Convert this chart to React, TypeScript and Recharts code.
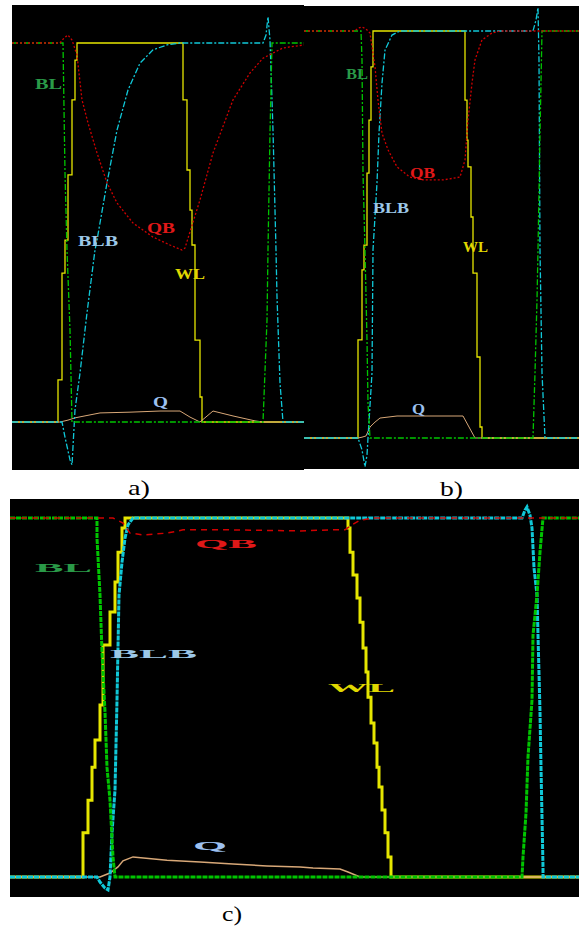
import { Line, LineChart, XAxis, YAxis } from "recharts";

// ---- panel a) : read rising/falling edges from scope trace ----
const blTA = [0, 51, 53, 55, 58, 60, 251, 255, 256, 258, 260, 292];
const blVA = [1, 1, 0.657, 0.454, 0.243, 0, 0, 0.269, 0.454, 0.763, 1, 1];
const blbTA = [0, 50, 53, 58, 60, 63, 68, 75, 83, 85, 95, 105, 116, 128, 141, 155, 168, 251, 254, 256, 258, 261, 264, 265, 268, 271, 292];
const blbVA = [0, 0, -0.04, -0.1, -0.113, 0.032, 0.129, 0.288, 0.454, 0.48, 0.631, 0.77, 0.876, 0.947, 0.982, 0.995, 1, 1, 1.021, 1.069, 1.008, 0.77, 0.454, 0.33, 0.103, 0, 0];
const wlTA = [0, 43, 46, 50, 53, 56, 60, 63, 65, 169, 171, 175, 178, 180, 183, 188, 190, 292];
const wlVA = [0, 0, 0.111, 0.393, 0.48, 0.652, 0.85, 0.955, 1, 1, 0.85, 0.665, 0.559, 0.467, 0.216, 0.066, 0, 0];
const qbTA = [0, 48, 52, 56, 60, 65, 70, 76, 85, 95, 105, 121, 141, 158, 170, 173, 176, 188, 201, 221, 238, 251, 271, 292];
const qbVA = [1, 1, 1.013, 1.021, 1.008, 0.968, 0.85, 0.789, 0.71, 0.631, 0.578, 0.525, 0.488, 0.467, 0.454, 0.459, 0.485, 0.586, 0.71, 0.85, 0.921, 0.96, 0.987, 0.995];
const qTA = [0, 48, 56, 63, 88, 118, 148, 168, 178, 188, 201, 221, 243, 251, 292];
const qVA = [0, 0, 0.005, 0.011, 0.024, 0.026, 0.029, 0.029, 0.013, 0, 0.029, 0.016, 0.003, 0, 0];

// ---- panel b) ----
const blTB = [0, 57, 58, 59, 61, 63, 64, 66, 229, 231, 233, 234, 236, 238, 275];
const blVB = [1, 1, 0.929, 0.651, 0.462, 0.241, 0.086, 0, 0, 0.16, 0.339, 0.462, 0.749, 1, 1];
const blbTB = [0, 54, 58, 61, 63, 64, 68, 69, 73, 75, 78, 81, 88, 96, 229, 232, 234, 235, 236, 238, 241, 275];
const blbVB = [0, 0, -0.029, -0.071, -0.042, 0, 0.16, 0.462, 0.627, 0.749, 0.872, 0.953, 0.99, 1, 1, 1.027, 1.057, 0.929, 0.462, 0.16, 0, 0];
const wlTB = [0, 51, 54, 58, 60, 63, 65, 67, 69, 159, 161, 163, 164, 167, 169, 173, 176, 178, 275];
const wlVB = [0, 0, 0.241, 0.413, 0.474, 0.651, 0.781, 0.912, 1, 1, 0.83, 0.732, 0.666, 0.543, 0.405, 0.199, 0.027, 0, 0];
const qbTB = [0, 51, 54, 58, 62, 66, 71, 74, 78, 84, 93, 106, 119, 139, 156, 161, 164, 168, 171, 178, 188, 196, 275];
const qbVB = [1, 1, 1.007, 1.01, 1.005, 0.995, 0.912, 0.83, 0.749, 0.708, 0.666, 0.641, 0.634, 0.634, 0.641, 0.683, 0.781, 0.872, 0.929, 0.978, 0.995, 1, 1];
const qTB = [0, 54, 58, 62, 66, 71, 76, 93, 159, 171, 275];
const qVB = [0, 0, 0.002, 0.005, 0.027, 0.039, 0.049, 0.054, 0.054, 0, 0];

// ---- panel c) ----
const blTC = [0, 87, 87, 90, 92, 95, 97, 100, 103, 105, 512, 513, 516, 518, 522, 523, 527, 530, 533, 569];
const blVC = [1, 1, 0.944, 0.786, 0.627, 0.46, 0.306, 0.214, 0.056, 0, 0, 0.056, 0.178, 0.334, 0.493, 0.674, 0.786, 0.905, 1, 1];
const blbTC = [0, 87, 90, 95, 98, 100, 102, 105, 107, 109, 112, 115, 118, 123, 512, 515, 517, 520, 522, 524, 527, 528, 530, 531, 533, 533, 569];
const blbVC = [0, 0, -0.014, -0.031, -0.036, 0, 0.123, 0.242, 0.493, 0.786, 0.877, 0.944, 0.981, 1, 1, 1.022, 1.031, 1.008, 0.972, 0.861, 0.786, 0.674, 0.46, 0.306, 0.028, 0, 0];
const wlTC = [0, 70, 73, 78, 82, 85, 90, 93, 100, 105, 108, 112, 115, 337, 338, 340, 343, 347, 350, 353, 356, 358, 361, 364, 367, 369, 372, 375, 378, 381, 569];
const wlVC = [0, 0, 0.123, 0.214, 0.306, 0.382, 0.479, 0.646, 0.738, 0.822, 0.905, 0.972, 1, 1, 0.972, 0.905, 0.841, 0.777, 0.71, 0.638, 0.571, 0.501, 0.429, 0.373, 0.306, 0.251, 0.187, 0.123, 0.056, 0, 0];
const qbTC = [0, 103, 113, 120, 133, 157, 173, 223, 290, 320, 335, 342, 350, 363, 569];
const qbVC = [1, 1, 0.986, 0.958, 0.953, 0.958, 0.967, 0.967, 0.964, 0.967, 0.967, 0.981, 0.994, 1, 1];
const qTC = [0, 90, 100, 108, 113, 123, 157, 190, 223, 257, 290, 303, 330, 338, 350, 569];
const qVC = [0, 0, 0.011, 0.028, 0.045, 0.056, 0.047, 0.042, 0.036, 0.031, 0.028, 0.025, 0.022, 0.014, 0, 0];

const GREEN = "#00c400";
const CYAN = "#10c8d8";
const YELLOW = "#e6e600";
const RED = "#d00000";
const TAN = "#d8a878";

const pts = (t: number[], v: number[]) => t.map((x, i) => ({ t: x, v: v[i] }));

type Series = {
  name: string;
  data: { t: number; v: number }[];
  color: string;
  width: number;
  dash?: string;
  curve?: "linear" | "stepAfter";
};

function Scope({ left, top, width, height, xMax, yDomain, series }: {
  left: number; top: number; width: number; height: number; xMax: number;
  yDomain: [number, number]; series: Series[];
}) {
  return (
    <div style={{ position: "absolute", left, top, width, height, background: "#000" }}>
      <LineChart width={width} height={height} margin={{ top: 0, right: 0, bottom: 0, left: 0 }}>
        <XAxis type="number" dataKey="t" domain={[0, xMax]} allowDataOverflow hide />
        <YAxis type="number" domain={yDomain} allowDataOverflow hide />
        {series.map((s) => (
          <Line
            key={s.name}
            data={s.data}
            dataKey="v"
            type={s.curve ?? "linear"}
            stroke={s.color}
            strokeWidth={s.width}
            strokeDasharray={s.dash}
            dot={false}
            isAnimationActive={false}
          />
        ))}
      </LineChart>
    </div>
  );
}

const seriesA: Series[] = [
  { name: "WL", data: pts(wlTA, wlVA), color: YELLOW, width: 1.3, curve: "stepAfter" },
  { name: "Q", data: pts(qTA, qVA), color: TAN, width: 1 },
  { name: "BLB", data: pts(blbTA, blbVA), color: CYAN, width: 1.3, dash: "6 2 2 2" },
  { name: "BL", data: pts(blTA, blVA), color: GREEN, width: 1.3, dash: "6 2 2 2" },
  { name: "QB", data: pts(qbTA, qbVA), color: RED, width: 1.3, dash: "2 2" },
];

const seriesB: Series[] = [
  { name: "WL", data: pts(wlTB, wlVB), color: YELLOW, width: 1.3, curve: "stepAfter" },
  { name: "Q", data: pts(qTB, qVB), color: TAN, width: 1 },
  { name: "BLB", data: pts(blbTB, blbVB), color: CYAN, width: 1.3, dash: "6 2 2 2" },
  { name: "BL", data: pts(blTB, blVB), color: GREEN, width: 1.3, dash: "6 2 2 2" },
  { name: "QB", data: pts(qbTB, qbVB), color: RED, width: 1.3, dash: "2 2" },
];

const seriesC: Series[] = [
  { name: "WL", data: pts(wlTC, wlVC), color: YELLOW, width: 3, curve: "stepAfter" },
  { name: "Q", data: pts(qTC, qVC), color: TAN, width: 1.5 },
  { name: "BLB", data: pts(blbTC, blbVC), color: CYAN, width: 3, dash: "5 1" },
  { name: "BL", data: pts(blTC, blVC), color: GREEN, width: 3, dash: "5 1" },
  { name: "QB", data: pts(qbTC, qbVC), color: RED, width: 1.5, dash: "6 5" },
];

// trace name labels: [text, x, baseline, width, fontSize, colour]
const labels: [string, number, number, number, number, string][] = [
  ["BL", 35, 89, 27, 14, "#2a9a48"],
  ["QB", 147, 233, 28, 14, "#e01818"],
  ["BLB", 78, 246, 40, 14, "#9cc8e8"],
  ["WL", 175, 279, 30, 14, "#e0d800"],
  ["Q", 153, 407, 15, 14, "#9cc0f0"],
  ["BL", 346, 79, 22, 15, "#2a9a48"],
  ["QB", 410, 178, 25, 15, "#e01818"],
  ["BLB", 373, 213, 36, 15, "#9cc8e8"],
  ["WL", 463, 252, 25, 15, "#e0d800"],
  ["Q", 412, 414, 13, 15, "#9cc0f0"],
  ["BL", 35, 572, 57, 12, "#2a9a48"],
  ["QB", 195, 548, 62, 12, "#e01818"],
  ["BLB", 110, 658, 87, 12, "#9cc8e8"],
  ["WL", 328, 692, 67, 12, "#e0d800"],
  ["Q", 193, 850, 34, 12, "#9cc0f0"],
];

const captions: [string, number, number, number][] = [
  ["a)", 128, 495, 22],
  ["b)", 440, 496, 23],
  ["c)", 222, 921, 20],
];

export default function App() {
  return (
    <div style={{ position: "absolute", left: 0, top: 0, width: 579, height: 928, background: "#fff", overflow: "hidden" }}>
      <Scope left={12} top={5} width={292} height={465} xMax={292} yDomain={[-0.1266, 1.1003]} series={seriesA} />
      <Scope left={304} top={6} width={275} height={463} xMax={275} yDomain={[-0.0762, 1.0614]} series={seriesB} />
      <Scope left={10} top={499} width={569} height={398} xMax={569} yDomain={[-0.0557, 1.053]} series={seriesC} />
      <svg width={579} height={928} style={{ position: "absolute", left: 0, top: 0, pointerEvents: "none" }}>
        {labels.map(([txt, x, y, w, fs, c], i) => (
          <text key={i} x={x} y={y} fontFamily="'Liberation Serif', serif" fontWeight="bold" fontSize={fs}
            fill={c} textLength={w} lengthAdjust="spacingAndGlyphs">{txt}</text>
        ))}
        {captions.map(([txt, x, y, w]) => (
          <text key={txt} x={x} y={y} fontFamily="'Liberation Serif', serif" fontSize={22}
            fill="#000" textLength={w} lengthAdjust="spacingAndGlyphs">{txt}</text>
        ))}
      </svg>
    </div>
  );
}
